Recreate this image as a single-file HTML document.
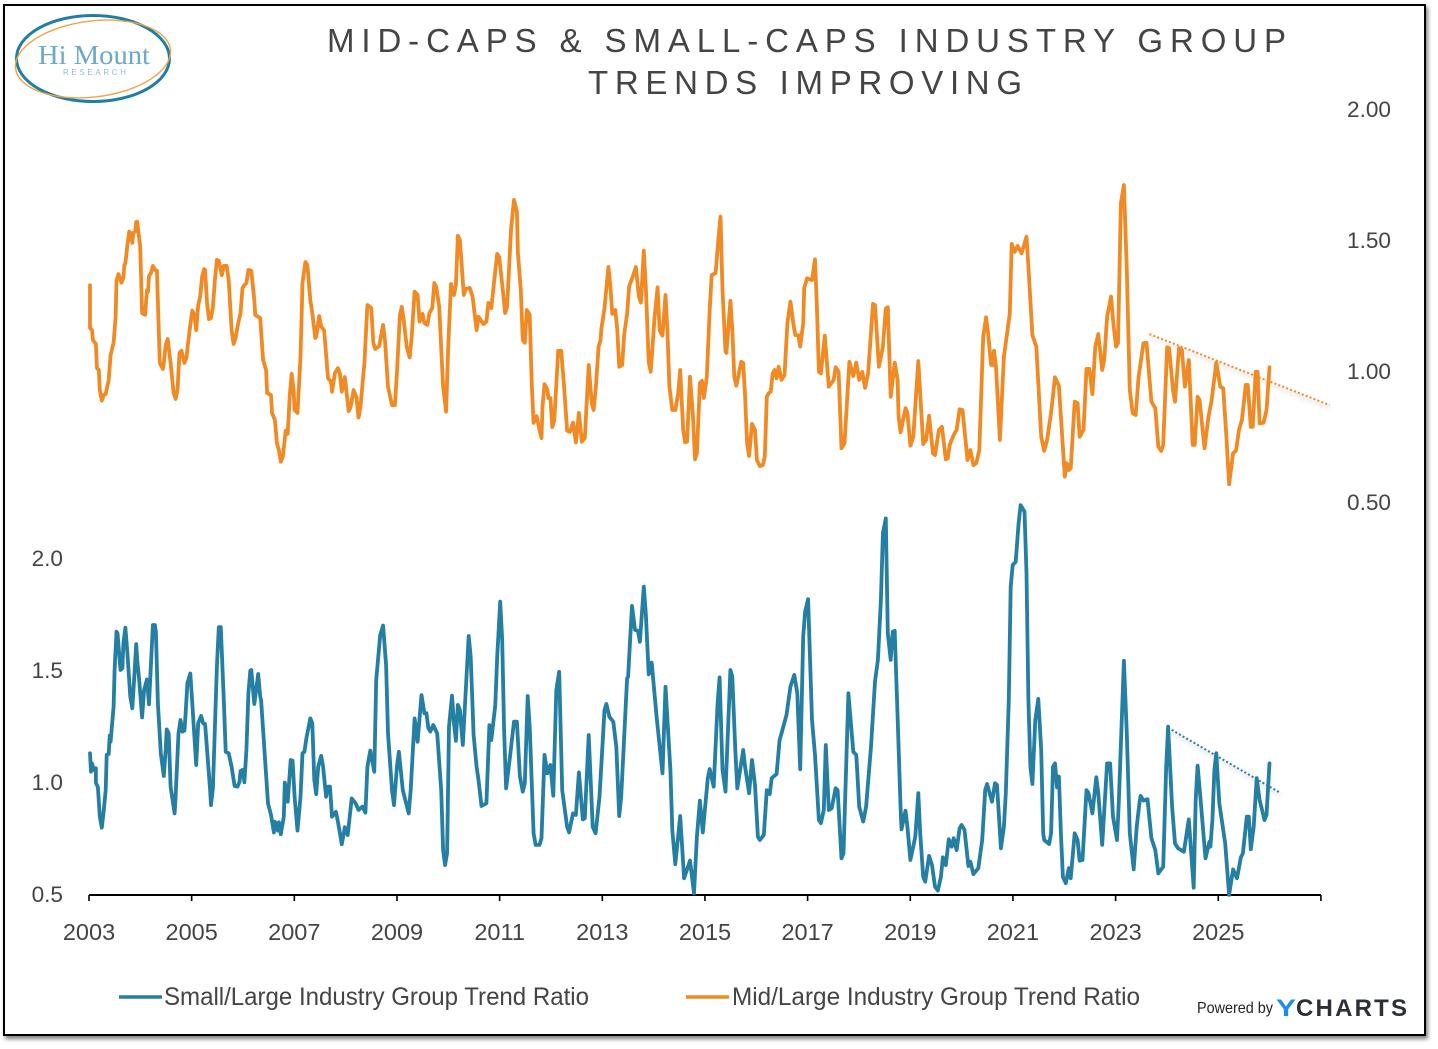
<!DOCTYPE html>
<html lang="en">
<head>
<meta charset="utf-8">
<title>Mid-Caps &amp; Small-Caps Industry Group Trends Improving</title>
<style>
html,body{margin:0;padding:0;background:#fff;width:1438px;height:1049px;overflow:hidden}
#frame{position:absolute;left:3px;top:4px;width:1419px;height:1028px;border:2.5px solid #000;box-shadow:2px 3px 4px rgba(0,0,0,.5);background:#fff}
svg{position:absolute;left:0;top:0}
text{font-family:"Liberation Sans",sans-serif}
</style>
</head>
<body>
<div id="frame"></div>
<svg id="chart" width="1438" height="1049" viewBox="0 0 1438 1049">
  <defs>
    <filter id="soft" x="-10%" y="-50%" width="120%" height="250%">
      <feDropShadow dx="1" dy="3" stdDeviation="2" flood-color="#000" flood-opacity="0.3"/>
    </filter>
  </defs>
  <g>
    <ellipse cx="93" cy="58.5" rx="76.5" ry="43" fill="none" stroke="#1f7fa3" stroke-width="3"/>
    <ellipse cx="93" cy="59" rx="78" ry="38" fill="none" stroke="#f4a04a" stroke-width="1.4" transform="rotate(-7 93 59)"/>
    <text x="38" y="64" font-size="27" textLength="112" lengthAdjust="spacingAndGlyphs" fill="#6ca9c5" style="font-family:'Liberation Serif',serif">Hi Mount</text>
    <text x="63" y="75" font-size="8" textLength="63" fill="#8fbdd4">RESEARCH</text>
  </g>
  <g fill="#444" font-size="33">
    <text x="327" y="52" textLength="959" lengthAdjust="spacing">MID-CAPS &amp; SMALL-CAPS INDUSTRY GROUP</text>
    <text x="588" y="94" textLength="434" lengthAdjust="spacing">TRENDS IMPROVING</text>
  </g>
  <g id="axes"></g>
  <g id="marks"></g>
  <g>
    <line x1="119" y1="997" x2="162" y2="997" stroke="#257fa3" stroke-width="3.5"/>
    <text x="164" y="1005" font-size="25" textLength="425" lengthAdjust="spacingAndGlyphs" fill="#444">Small/Large Industry Group Trend Ratio</text>
    <line x1="686" y1="997" x2="729" y2="997" stroke="#f08a24" stroke-width="3.5"/>
    <text x="732" y="1005" font-size="25" textLength="408" lengthAdjust="spacingAndGlyphs" fill="#444">Mid/Large Industry Group Trend Ratio</text>
  </g>
  <g>
    <text x="1197" y="1013" font-size="16" textLength="76" lengthAdjust="spacingAndGlyphs" fill="#222">Powered by</text>
    <text x="1276" y="1016" font-size="24" font-weight="bold" textLength="20" lengthAdjust="spacingAndGlyphs" fill="#1e8fe6">Y</text>
    <text x="1296" y="1016" font-size="24" font-weight="bold" textLength="111" lengthAdjust="spacing" fill="#2b2f36">CHARTS</text>
  </g>
</svg>
<script>
// x values are weeks since the start of 2003
const xTickYears = [2003,2005,2007,2009,2011,2013,2015,2017,2019,2021,2023,2025,2027];
const xTickLabels = ["2003","2005","2007","2009","2011","2013","2015","2017","2019","2021","2023","2025",""];
const midTicks = [2.0,1.5,1.0,0.5];
const midTickLabels = ["2.00","1.50","1.00","0.50"];
const smallTicks = [2.0,1.5,1.0,0.5];
const smallTickLabels = ["2.0","1.5","1.0","0.5"];

const midWeeks = [
1,1,3,4,7,8,10,11,13,15,
17,20,22,25,27,28,30,33,35,36,
37,39,41,42,44,45,47,48,49,52,
54,57,59,60,61,63,65,67,69,72,
75,76,78,80,83,86,88,90,92,94,
97,99,101,103,105,107,109,111,113,115,
117,118,120,122,124,126,128,130,132,135,
137,140,142,145,147,149,151,154,156,158,
160,162,165,168,169,174,177,180,181,185,
186,189,191,193,195,197,200,202,204,206,
208,209,212,215,217,220,222,225,227,230,
231,234,236,239,243,246,247,250,253,255,
257,260,264,266,269,272,274,276,280,283,
287,289,291,295,299,301,304,308,311,313,
316,318,320,323,326,328,331,334,336,339,
341,344,346,349,351,353,356,360,363,365,
368,371,373,375,377,381,383,387,390,394,
396,401,404,406,409,412,415,417,421,423,
425,429,432,435,436,439,441,443,445,448,
450,452,455,458,460,461,463,466,467,469,
471,473,477,480,483,486,489,492,495,498,
501,504,508,511,513,515,518,520,521,524,
528,530,532,535,537,539,542,544,547,549,
553,556,559,561,564,566,569,571,575,578,
580,583,586,588,590,593,596,599,601,604,
606,608,611,614,616,618,621,623,625,628,
631,633,637,640,642,644,647,648,652,654,
656,658,660,663,665,667,669,671,674,677,
679,682,685,687,689,691,693,695,697,699,
701,704,707,710,713,716,718,721,723,726,
727,730,735,738,740,742,744,748,752,757,
759,762,765,768,773,777,780,783,786,789,
792,797,799,803,807,810,812,815,819,822,
823,825,830,832,835,838,843,848,851,854,
858,860,864,867,871,873,875,879,882,885,
888,893,896,899,902,905,909,912,914,917,
919,920,922,926,930,936,938,941,944,948,
953,955,959,963,968,971,974,978,982,986,
992,994,996,998,1002,1005,1007,1011,1014,1017,
1020,1023,1026,1030,1032,1035,1039,1041,1044,1046,
1049,1052,1055,1058,1061,1064,1067,1072,1075,1080,
1084,1087,1090,1092,1096,1098,1102,1104,1108,1111,
1114,1118,1122,1124,1127,1129,1134,1138,1141,1146,
1150,1153,1156,1159,1163,1166,1169,1172,1176,1178,
1181,1183,1186,1188,1190,1194,1197,1200];

const midValues = [
1.328,1.164,1.156,1.118,1.103,1.011,1.004,.927,.887,.908,
.912,.966,1.061,1.107,1.206,1.345,1.370,1.337,1.355,1.405,
1.412,1.481,1.532,1.527,1.489,1.527,1.532,1.569,1.570,1.474,
1.221,1.214,1.309,1.303,1.363,1.374,1.401,1.386,1.383,1.031,
1.008,1.031,1.099,1.122,1.031,.916,.893,.927,1.069,1.077,
1.031,1.050,1.118,1.176,1.230,1.214,1.156,1.252,1.284,1.360,
1.389,1.386,1.260,1.198,1.202,1.245,1.347,1.424,1.421,1.366,
1.401,1.401,1.347,1.156,1.103,1.126,1.169,1.221,1.317,1.328,
1.336,1.386,1.383,1.271,1.214,1.202,1.042,1.004,.916,.908,
.840,.813,.725,.698,.654,.673,.772,.760,.902,.989,
.927,.851,.840,1.055,1.336,1.416,1.405,1.271,1.221,1.126,
1.131,1.210,1.169,1.156,.973,.959,.921,.992,1.011,.992,
.921,.977,.847,.864,.927,.897,.822,.864,1.031,1.252,
1.240,1.107,1.084,1.095,1.176,1.112,.940,.870,.870,.992,
1.214,1.245,1.192,1.093,1.051,1.131,1.303,1.290,1.188,1.218,
1.183,1.176,1.221,1.240,1.336,1.322,1.245,.940,.845,1.080,
1.332,1.290,1.328,1.516,1.500,1.290,1.313,1.317,1.284,1.156,
1.207,1.179,1.188,1.260,1.240,1.347,1.447,1.436,1.298,1.221,
1.245,1.538,1.653,1.608,1.450,1.309,1.118,1.108,1.233,1.214,
.954,.802,.828,.775,.744,.864,.950,.927,.897,.897,
.786,.813,1.077,1.077,.940,.772,.768,.803,.728,.840,
.730,.744,1.023,.878,.851,.927,1.093,1.118,1.164,1.240,
1.397,1.322,1.218,1.233,1.156,1.016,1.023,1.137,1.218,1.322,
1.363,1.397,1.284,1.261,1.459,1.322,1.035,.997,1.207,1.319,
1.156,1.135,1.290,1.156,.940,.851,.851,.916,1.004,.775,
.728,.730,.978,.826,.663,.686,.954,.963,.897,.978,
1.233,1.366,1.374,1.513,1.589,1.309,1.074,1.069,1.268,1.156,
.978,.944,.978,1.035,1.031,.902,.724,.676,.798,.775,
.660,.637,.641,.673,.902,.915,.921,.991,1.004,.972,
1.016,.966,.985,1.182,1.265,1.182,1.137,1.137,1.093,1.182,
1.316,1.354,1.347,1.426,1.245,.997,.991,1.135,.940,.966,
1.014,.997,.705,.724,1.035,.981,1.032,.966,.997,.936,
.991,1.256,1.252,1.016,1.093,1.239,1.243,.902,1.032,.966,
.826,.766,.858,.841,.715,.749,1.038,.721,.737,.829,
.686,.679,.775,.787,.663,.667,.718,.756,.775,.854,
.851,.660,.698,.641,.648,.698,1.131,1.205,1.144,1.023,
1.023,1.077,1.016,.737,1.055,1.220,1.485,1.455,1.477,1.449,
1.513,1.398,1.137,1.093,.749,.695,.737,.841,.976,.943,
.597,.648,.622,.629,.883,.877,.749,.775,1.008,1.008,
.912,1.093,1.141,1.004,1.042,1.207,1.284,1.195,1.093,1.106,
1.640,1.710,1.386,.927,.839,.832,.978,1.106,1.108,.883,
.858,.711,.695,.718,1.090,1.087,.927,.883,1.087,1.080,
.940,1.042,.718,.718,.902,.889,.705,.826,.883,1.032,
.940,.934,.762,.568,.686,.696,.775,.813,.947,.947,
.787,.787,.997,.997,.800,.803,.851,1.014];

const smallWeeks = [
1,2,3,5,7,7,9,11,13,15,
17,18,20,21,22,25,26,28,29,32,
34,35,37,39,42,44,46,48,49,51,
54,56,59,61,63,65,67,68,70,73,
76,78,79,81,83,87,88,91,93,95,
97,98,100,103,105,109,111,114,116,118,
123,124,126,130,132,134,137,139,142,145,
148,151,153,154,156,158,160,162,164,165,
168,172,174,175,179,182,185,188,189,192,
193,195,198,199,202,205,207,209,212,215,
217,219,221,225,227,229,231,233,236,238,
241,243,245,247,251,253,257,260,263,267,
271,274,278,281,283,286,290,292,296,299,
302,304,308,310,313,315,319,325,327,331,
334,338,341,343,345,347,350,354,358,360,
362,364,366,369,371,373,375,377,380,383,
386,388,391,394,396,399,404,407,409,413,
415,418,420,422,424,428,432,435,438,441,
443,446,448,452,454,458,460,463,466,469,
472,475,478,481,486,488,492,495,498,502,
504,508,512,515,519,524,526,529,533,536,
539,541,547,548,552,555,558,560,564,566,
569,572,577,583,586,591,593,596,601,605,
611,615,618,621,624,629,631,635,639,641,
644,647,652,654,657,659,665,667,671,674,
677,680,682,686,689,692,694,699,702,704,
709,713,717,720,723,726,728,731,735,738,
742,744,747,749,752,755,759,761,765,767,
772,777,780,783,787,790,795,799,802,805,
807,810,812,815,817,819,822,825,826,830,
832,835,840,843,845,848,850,854,857,860,
863,866,868,871,874,877,879,882,885,887,
890,894,896,899,904,908,911,913,918,921,
923,927,930,932,935,937,939,942,945,947,
951,953,955,957,959,962,965,968,970,971,
976,978,980,982,984,986,988,990,993,996,
998,1002,1005,1007,1010,1014,1016,1020,1024,1026,
1030,1035,1038,1041,1045,1047,1052,1055,1058,1062,
1065,1068,1069,1072,1076,1080,1084,1087,1092,1095,
1097,1101,1104,1107,1113,1118,1123,1125,1127,1130,
1135,1139,1140,1142,1144,1146,1149,1155,1159,1163,
1167,1171,1173,1177,1179,1181,1184,1187,1190,1195,
1197,1200];

const smallValues = [
1.128,1.046,1.083,1.054,1.061,.997,.976,.845,.796,.875,
.964,1.121,1.125,1.207,1.180,1.336,1.5,1.671,1.664,1.5,
1.508,1.619,1.689,1.575,1.381,1.329,1.470,1.615,1.545,1.455,
1.289,1.411,1.458,1.347,1.530,1.701,1.701,1.671,1.351,1.128,
1.027,1.143,1.235,1.217,.979,.860,.934,1.217,1.277,1.225,
1.229,1.289,1.441,1.485,1.351,1.076,1.262,1.295,1.262,1.259,
.972,.897,.972,1.515,1.691,1.691,1.366,1.135,1.128,1.068,
.982,.979,1.001,1.049,1.054,.999,1.143,1.396,1.497,1.5,
1.348,1.482,1.381,1.366,1.098,.905,.853,.775,.823,.783,
.820,.767,.845,.997,.912,1.098,1.095,.934,.783,.934,
1.128,1.135,1.195,1.284,1.262,1.009,.946,1.068,1.117,1.068,
.934,.979,.979,.845,.867,.823,.722,.798,.763,.927,
.905,.875,.890,.863,1.068,1.140,1.046,1.455,1.656,1.698,
1.522,1.217,.964,.897,1.068,1.135,.964,.860,.964,1.284,
1.180,1.388,1.307,1.307,1.240,1.225,1.254,1.217,.964,.696,
.629,.682,1.247,1.385,1.262,1.184,1.344,1.321,1.165,1.411,
1.652,1.559,1.210,1.068,1.009,.893,.905,1.254,1.187,1.344,
1.559,1.805,1.634,1.232,.972,1.113,1.269,1.269,1.024,.957,
.994,1.384,1.247,.771,.719,.719,.749,1.121,1.039,1.076,
.939,1.411,1.492,.964,.800,.775,.860,.853,1.043,.833,
.838,1.210,.800,.771,.934,1.321,1.348,1.291,1.269,1.158,
.848,.934,1.463,1.470,1.786,1.679,1.675,1.626,1.872,1.753,
1.481,1.533,1.291,1.039,1.425,1.054,.786,.633,.848,.570,
.649,.503,.756,.917,.775,1.017,1.058,.979,1.351,1.467,
1.054,.957,1.5,1.470,1.143,.972,1.143,1.068,.950,1.098,
.987,.756,.741,.763,.964,.946,1.017,1.036,1.187,1.217,
1.299,1.425,1.478,1.396,1.057,1.649,1.760,1.816,1.277,1.121,
.830,.816,.875,1.165,.875,.883,.972,.964,.659,.682,
1.396,1.135,1.121,.890,.823,.890,1.158,1.448,1.545,1.812,
2.110,2.177,1.664,1.545,1.671,1.675,1.291,.883,.789,.872,
.800,.652,.756,.950,.771,.577,.555,.670,.629,.533,
.515,.577,.664,.629,.744,.711,.749,.696,.793,.808,
.786,.625,.644,.589,.615,.741,.964,.991,.912,.994,
.987,.704,.800,.950,1.366,1.872,1.969,1.983,2.155,2.236,
2.207,1.932,1.366,1.068,.991,1.277,1.371,1.143,.771,.741,
.723,.771,1.068,1.083,.976,1.024,.771,.577,.548,.615,
.570,.771,.741,.649,.652,.964,.952,.860,1.021,.950,
.719,1.083,1.083,.845,.741,.920,1.541,1.217,.771,.610,
.800,.912,.938,.917,.923,.749,.696,.592,.622,1.068,
1.247,.890,.726,.704,.689,.833,.528,.920,1.073,.920,
.659,.733,.711,.830,1.054,1.128,.905,.726,.496,.610,
.570,.664,.682,.845,.845,.700,.800,1.017,.920,.830,
.853,1.083];

const midTrendWeeks = [1078,1261];
const midTrendValues = [1.141,0.870];
const smallTrendWeeks = [1097,1210];
const smallTrendValues = [1.242,0.954];

const NS = 'http://www.w3.org/2000/svg';
const xFromWeek = w => 89 + w / 52.18 * 51.33;
const xFromYear = y => xFromWeek((y - 2003) * 52.18);
const yMid = v => 371 - (v - 1) * 262;
const ySmall = v => 782 - (v - 1) * 224;
const axes = document.getElementById('axes');
const marks = document.getElementById('marks');

function make(tag, attrs, parent) {
  const el = document.createElementNS(NS, tag);
  for (const k in attrs) el.setAttribute(k, attrs[k]);
  parent.appendChild(el);
  return el;
}
function pathFrom(xs, ys, xf, yf) {
  const n = Math.min(xs.length, ys.length);
  let d = '';
  for (let i = 0; i < n; i++) d += (i ? 'L' : 'M') + xf(xs[i]).toFixed(1) + ' ' + yf(ys[i]).toFixed(1);
  return d;
}

const axisLine = make('line', {x1: xFromYear(2003), y1: 895, x2: xFromYear(2027), y2: 895, stroke: '#000', 'stroke-width': 2}, axes);



xTickYears.forEach((yr, i) => {
  const x = xFromYear(yr);
  const t = make('line', {x1: x, y1: 895, x2: x, y2: 901, stroke: '#000', 'stroke-width': 1.6}, axes);
  
  
  if (xTickLabels[i]) {
    const l = make('text', {x: x, y: 940, 'text-anchor': 'middle', 'font-size': 23.5, fill: '#444'}, axes);
    l.textContent = xTickLabels[i];
    
    
  }
});
midTicks.forEach((v, i) => {
  const l = make('text', {x: 1347, y: yMid(v) + 8, 'font-size': 22.6, fill: '#444'}, axes);
  l.textContent = midTickLabels[i];
  
  
});
smallTicks.forEach((v, i) => {
  const l = make('text', {x: 63, y: ySmall(v) + 8, 'text-anchor': 'end', 'font-size': 22.6, fill: '#444'}, axes);
  l.textContent = smallTickLabels[i];
  
  
});

const midTrend = make('path', {d: pathFrom(midTrendWeeks, midTrendValues, xFromWeek, yMid), fill: 'none', stroke: '#f08a24', 'stroke-width': 2, 'stroke-dasharray': '2 2.2', filter: 'url(#soft)'}, marks);



const smallTrend = make('path', {d: pathFrom(smallTrendWeeks, smallTrendValues, xFromWeek, ySmall), fill: 'none', stroke: '#257fa3', 'stroke-width': 2, 'stroke-dasharray': '2 2.2', filter: 'url(#soft)'}, marks);



const midLine = make('path', {d: pathFrom(midWeeks, midValues, xFromWeek, yMid), fill: 'none', stroke: '#f08a24', 'stroke-width': 3.8, 'stroke-linejoin': 'round', 'stroke-linecap': 'round'}, marks);



const smallLine = make('path', {d: pathFrom(smallWeeks, smallValues, xFromWeek, ySmall), fill: 'none', stroke: '#257fa3', 'stroke-width': 3.8, 'stroke-linejoin': 'round', 'stroke-linecap': 'round'}, marks);


</script>
</body>
</html>
